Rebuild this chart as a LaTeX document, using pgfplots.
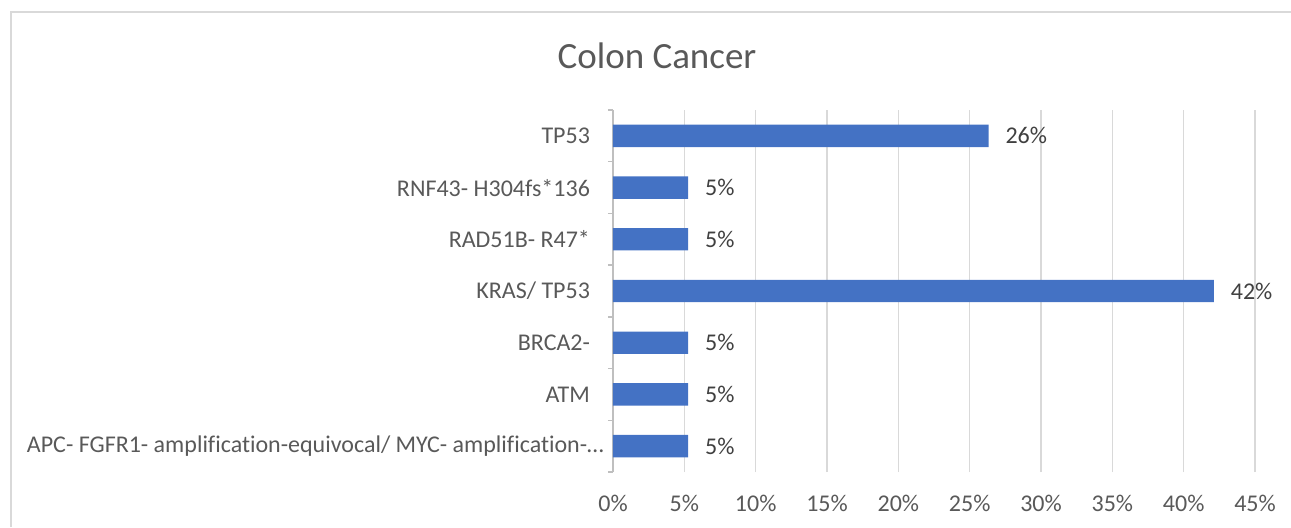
\documentclass[border=0pt]{standalone}
\usepackage{pgfplots}
\pgfplotsset{compat=1.18}
\usepackage{fontspec}
\setmainfont{Carlito}[Ligatures=NoCommon]
\definecolor{barblue}{HTML}{4472C4}
\definecolor{gridgray}{HTML}{D9D9D9}
\definecolor{axisgray}{HTML}{BFBFBF}
\definecolor{txtgray}{HTML}{595959}
\definecolor{lblgray}{HTML}{404040}

\begin{document}
\begin{tikzpicture}[x=0.5pt,y=0.5pt]
\useasboundingbox (0,0) rectangle (1291,527);
% chart frame
\draw[gridgray, line width=1pt] (11,0) -- (11,515) -- (1291,515);
\node[txtgray, font=\fontsize{18.5}{22}\selectfont] at (657,471) {Colon Cancer};
\begin{axis}[
    at={(306.5pt,27.5pt)}, anchor=south west,
    scale only axis,
    width=321pt, height=181pt,
    xmin=0, xmax=45,
    ymin=-0.5, ymax=6.5,
    xtick={0,5,...,45},
    xticklabel={\pgfmathprintnumber{\tick}\%},
    ytick={0,...,6},
    yticklabels={APC- FGFR1- amplification-equivocal/ MYC- amplification-…\kern-7pt,
                 ATM, BRCA2-, KRAS/ TP53, RAD51B- R47*, RNF43- H304fs*136, TP53},
    minor ytick={-0.5,0.5,...,6.5},
    major tick length=0pt,
    minor tick length=2.5pt,
    tick align=outside,
    xtick style={draw=none},
    ytick style={axisgray, line width=0.75pt},
    axis lines*=left,
    x axis line style={draw=none},
    y axis line style={axisgray, line width=0.75pt},
    xmajorgrids,
    grid style={gridgray, line width=0.75pt},
    /pgf/number format/assume math mode=true,
    tick label style={txtgray, font=\fontsize{12}{14}\selectfont},
    xticklabel style={yshift=-8pt},
    yticklabel style={xshift=-8pt},
    point meta=explicit symbolic,
    nodes near coords,
    nodes near coords style={lblgray, font=\fontsize{12}{14}\selectfont, anchor=west, xshift=5pt},
]
\addplot[xbar, bar width=11.2pt, fill=barblue, draw=none]
coordinates {(5.26,0) [5\%] (5.26,1) [5\%] (5.26,2) [5\%] (42.11,3) [42\%]
             (5.26,4) [5\%] (5.26,5) [5\%] (26.32,6) [26\%]};
\end{axis}
\end{tikzpicture}
\end{document}
